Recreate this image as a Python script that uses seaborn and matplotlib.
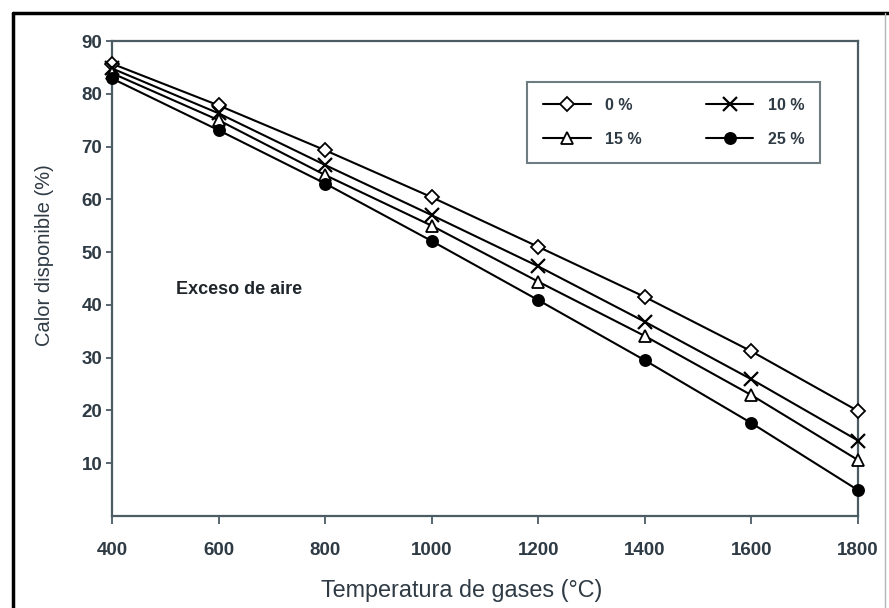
import matplotlib
matplotlib.use("Agg")
import matplotlib.pyplot as plt
import matplotlib.lines as mlines
import seaborn as sns

# temperatura de gases (C) and calor disponible (%) for each air excess
temps = [400, 600, 800, 1000, 1200, 1400, 1600, 1800]
exc_0 = [85.7, 77.8, 69.3, 60.4, 51.0, 41.5, 31.2, 19.9]
exc_10 = [84.8, 76.3, 66.5, 57.0, 47.3, 36.8, 25.9, 14.3]
exc_15 = [83.9, 75.0, 64.6, 55.0, 44.4, 34.1, 22.9, 10.6]
exc_25 = [82.9, 73.1, 63.0, 52.1, 40.9, 29.5, 17.6, 4.9]
labels = ["0 %", "10 %", "15 %", "25 %"]

xticks = [400, 600, 800, 1000, 1200, 1400, 1600, 1800]
yticks = [10, 20, 30, 40, 50, 60, 70, 80, 90]

sns.set_style("white")
plt.rcParams["font.family"] = ["Liberation Sans", "DejaVu Sans"]

AX_COL = "#4b5c64"
TXT_COL = "#2e3a44"

fig = plt.figure(figsize=(8.89, 6.08), dpi=100)
ax = fig.add_axes([112/889, 1-516/608, 746/889, 475/608])

series = [exc_0, exc_10, exc_15, exc_25]
styles = [
    dict(marker="D", markersize=7, markerfacecolor="white", markeredgewidth=1.3),
    dict(marker="x", markersize=10, markeredgewidth=1.6),
    dict(marker="^", markersize=9, markerfacecolor="white", markeredgewidth=1.3),
    dict(marker="o", markersize=8, markerfacecolor="black", markeredgewidth=1.3),
]
for vals, lab, st in zip(series, labels, styles):
    sns.lineplot(x=temps, y=vals, ax=ax, color="black", linewidth=1.5,
                 markeredgecolor="black", label=lab, clip_on=False,
                 zorder=3, **st)

ax.set_xlim(400, 1800)
ax.set_ylim(0, 90)
ax.set_xticks(xticks)
ax.set_yticks(yticks)
ax.tick_params(axis="both", direction="out", length=6, width=1.3,
               bottom=True, left=True,
               color=AX_COL, labelcolor=TXT_COL, labelsize=13.5)
ax.tick_params(axis="x", pad=13)
ax.tick_params(axis="y", length=4, pad=3)
for lbl in ax.get_xticklabels() + ax.get_yticklabels():
    lbl.set_fontweight("bold")
for sp in ax.spines.values():
    sp.set_color(AX_COL)
    sp.set_linewidth(1.6)

ax.set_xlabel("Temperatura de gases (°C)", fontsize=16.8, color=TXT_COL)
ax.xaxis.set_label_coords((462-112)/746, (516-590)/475)
ax.xaxis.label.set_va("center")
ax.set_ylabel("Calor disponible (%)", fontsize=14.5, color=TXT_COL)
ax.yaxis.set_label_coords((45-112)/746, (516-255)/475)
ax.yaxis.label.set_va("center")

ax.text(520, 43, "Exceso de aire", fontsize=13, fontweight="bold",
        color="#1e252b", va="center", ha="left")

h, l = ax.get_legend_handles_labels()
order = [0, 2, 1, 3]
leg = ax.legend([h[i] for i in order], [l[i] for i in order], ncol=2,
                loc="upper left", bbox_to_anchor=(0.556, 0.914),
                borderaxespad=0, frameon=True, fancybox=False,
                edgecolor=AX_COL, fontsize=11.5, handlelength=3.0,
                columnspacing=4.0, labelspacing=1.2, borderpad=1.0,
                handletextpad=0.9)
leg.get_frame().set_linewidth(1.5)
for t in leg.get_texts():
    t.set_color(TXT_COL)
    t.set_fontweight("bold")

# outer frame of the figure
fig.add_artist(mlines.Line2D([13/889, 13/889], [0, 1-13/608],
                             color="black", linewidth=2.5))
fig.add_artist(mlines.Line2D([13/889, 1], [1-13/608, 1-13/608],
                             color="black", linewidth=2.5))
fig.add_artist(mlines.Line2D([885/889, 885/889], [0, 1-13/608],
                             color="#b0b8bc", linewidth=1.0))

fig.savefig("out.png", dpi=100)
